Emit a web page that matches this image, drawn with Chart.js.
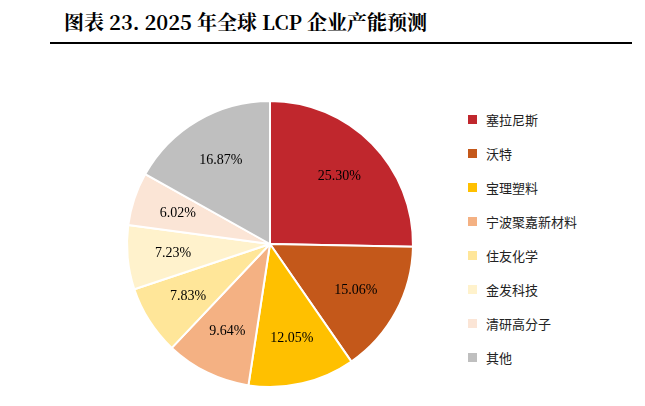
<!DOCTYPE html>
<html><head><meta charset="utf-8">
<script src="https://cdn.jsdelivr.net/npm/chart.js@4"></script>
<style>
body{margin:0;width:645px;height:406px;background:#fff;font-family:"Noto Sans CJK SC",sans-serif;position:relative;overflow:hidden}
#title{position:absolute;left:64px;top:7px;font-family:"Noto Serif CJK SC","Liberation Serif","Noto Sans CJK SC",serif;font-weight:bold;font-size:20px;color:#000}
#rule{position:absolute;left:50px;top:42px;width:582px;height:2px;background:#000}
#wrap{position:absolute;left:124px;top:98px;width:292px;height:292px}
#legend{position:absolute;left:468px;top:102px;font-size:13px;color:#222}
.item{height:34px;display:flex;align-items:center}
.sw{width:9px;height:9px;margin-right:9px}
</style></head><body>
<div id="title">图表 23. 2025 年全球 LCP 企业产能预测</div>
<div id="rule"></div>
<div id="wrap"><canvas id="pie"></canvas></div>
<div id="legend"></div>
<script>
const categories = ["塞拉尼斯","沃特","宝理塑料","宁波聚嘉新材料","住友化学","金发科技","清研高分子","其他"];
const shares = [25.30,15.06,12.05,9.64,7.83,7.23,6.02,16.87];
const colors = ["#C0272D","#C4581A","#FFC000","#F4B183","#FFE699","#FFF2CC","#FBE5D6","#BFBFBF"];

const leg = document.getElementById("legend");
categories.forEach((c, i) => {
    leg.innerHTML += `<div class="item"><span class="sw" style="background:${colors[i]}"></span>${c}</div>`;
});

// percent labels inside slices
const labelPlugin = {
    id: "pctLabels",
    afterDatasetsDraw(chart) {
        const ctx = chart.ctx;
        const meta = chart.getDatasetMeta(0);
        ctx.save();
        ctx.font = "14px 'Liberation Serif', serif";
        ctx.fillStyle = "#000";
        ctx.textAlign = "center";
        ctx.textBaseline = "middle";
        meta.data.forEach((arc, i) => {
            const mid = (arc.startAngle + arc.endAngle) / 2;
            const r = arc.outerRadius * 0.68;
            ctx.fillText(shares[i].toFixed(2) + "%", arc.x + Math.cos(mid) * r, arc.y + Math.sin(mid) * r);
        });
        ctx.restore();
    }
};

new Chart(document.getElementById("pie"), {
    type: "pie",
    data: {
        labels: categories,
        datasets: [{
            data: shares,
            backgroundColor: colors,
            borderColor: "#fff",
            borderWidth: 2
        }]
    },
    options: {
        responsive: true,
        maintainAspectRatio: false,
        animation: false,
        layout: { padding: 2 },
        plugins: { legend: { display: false }, tooltip: { enabled: false } }
    },
    plugins: [labelPlugin]
});
</script>
</body></html>
